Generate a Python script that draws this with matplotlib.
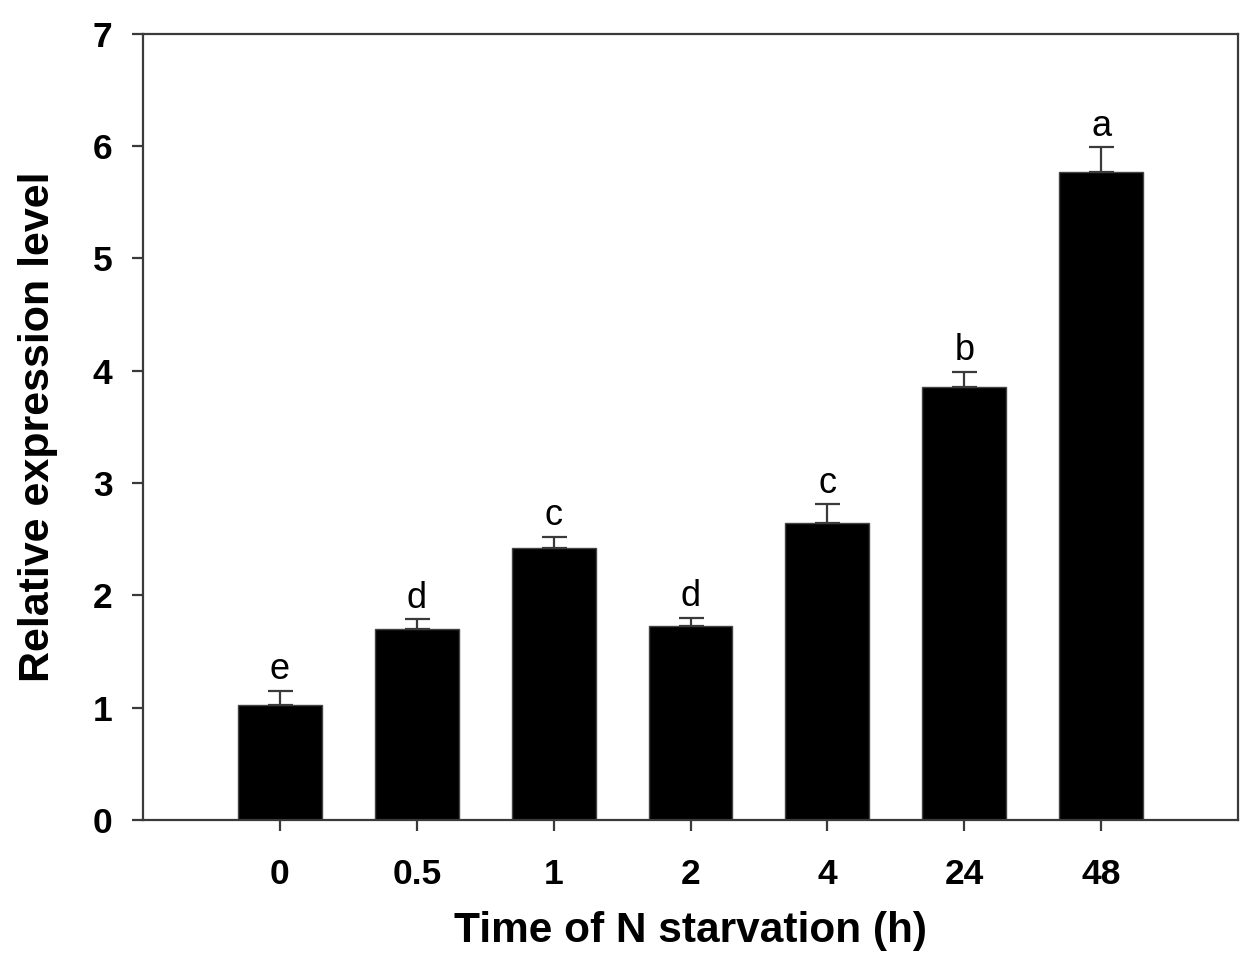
import matplotlib
matplotlib.use("Agg")
import matplotlib.pyplot as plt
import numpy as np

plt.rcParams['font.family'] = ['Liberation Sans', 'DejaVu Sans']

categories = ["0", "0.5", "1", "2", "4", "24", "48"]
values = [1.02, 1.70, 2.42, 1.73, 2.64, 3.85, 5.77]
errors = [0.13, 0.09, 0.10, 0.07, 0.17, 0.14, 0.22]
letters = ["e", "d", "c", "d", "c", "b", "a"]

W, H = 1256, 965
fig = plt.figure(figsize=(W / 100, H / 100), dpi=100)
ax = fig.add_axes([143 / W, (H - 820) / H, (1238 - 143) / W, (820 - 33.5) / H])

x = np.arange(len(categories))
spine_col = "#3a3a3a"
ax.bar(x, values, width=0.613, color="black", edgecolor="#444444", linewidth=1.0, zorder=2)
ax.errorbar(x, values, yerr=[np.zeros(len(errors)), errors], fmt="none",
            ecolor=spine_col, elinewidth=1.6, capsize=9, capthick=1.6, zorder=3)

for xi, v, e, l in zip(x, values, errors, letters):
    ax.text(xi, v + e + 0.03, l, ha="center", va="bottom", fontsize=26, color="black")

ax.set_xlim(-1, 7)
ax.set_ylim(0, 7)
ax.set_xticks(x)
ax.set_xticklabels(categories)
ax.set_yticks(range(0, 8))

for s in ax.spines.values():
    s.set_color(spine_col)
    s.set_linewidth(1.6)

ax.tick_params(axis="both", direction="out", length=8, width=1.6, color=spine_col,
               labelsize=25.5, top=False, right=False)
ax.tick_params(axis="x", pad=19)
ax.tick_params(axis="y", pad=14)
for lab in ax.get_xticklabels() + ax.get_yticklabels():
    lab.set_fontweight("bold")

ax.set_xlabel("Time of N starvation (h)", fontsize=30.5, fontweight="bold", labelpad=15)
ax.set_ylabel("Relative expression level", fontsize=31, fontweight="bold", labelpad=25)

fig.savefig("out.png", dpi=100)
